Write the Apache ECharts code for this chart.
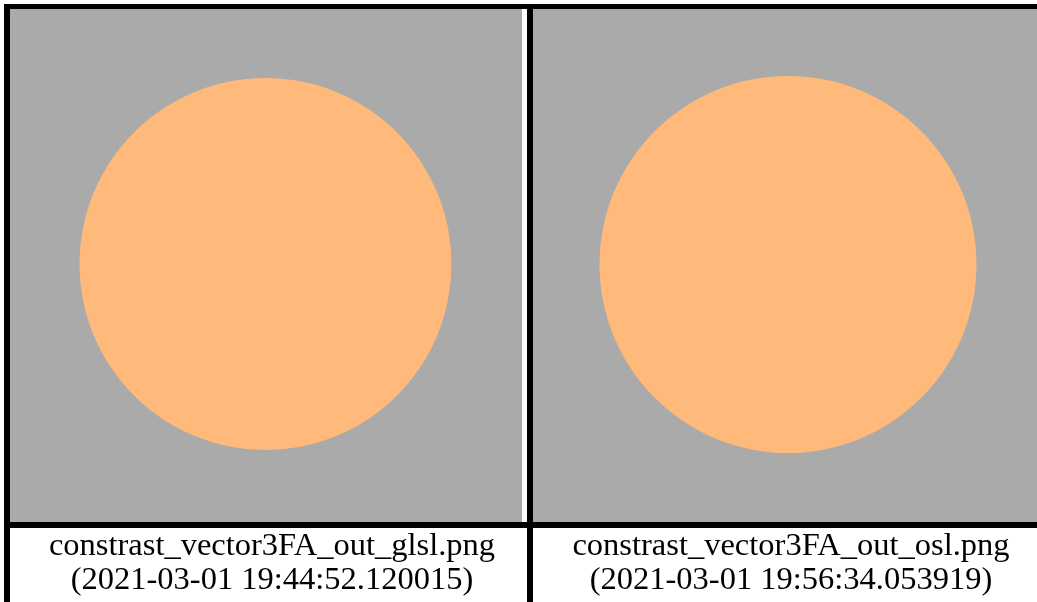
<!DOCTYPE html>
<html>
<head>
<meta charset="UTF-8">
<title></title>
<script src="https://cdn.jsdelivr.net/npm/echarts@6/dist/echarts.min.js"></script>
<style>
  html, body { margin: 0; padding: 0; background: #fff; }
  #chart { width: 1037px; height: 602px; }
</style>
</head>
<body>
<div id="chart"></div>
<script>
// two image panels (image pixel units, right one cut by the window)
var fileNames = ['constrast_vector3FA_out_glsl.png', 'constrast_vector3FA_out_osl.png'];
var timeStamps = ['(2021-03-01 19:44:52.120015)', '(2021-03-01 19:56:34.053919)'];
var panelWidth = [512, 505];
// circle per panel, in image pixel units
var circleX = [255.5, 256];
var circleY = [255, 255.5];
var circleR = [186, 188.5];

var gray = '#aaaaaa';
var orange = '#ffba7b';

var grids = [
  { left: 10, top: 9, width: 512, height: 513 },
  { left: 532, top: 9, width: 505, height: 513 }
];
var xAxes = [], yAxes = [], series = [];
for (var i = 0; i < fileNames.length; i++) {
  grids[i].show = true;
  grids[i].backgroundColor = gray;
  grids[i].borderWidth = 0;
  xAxes.push({ gridIndex: i, type: 'value', min: 0, max: panelWidth[i], show: false });
  yAxes.push({ gridIndex: i, type: 'value', min: 0, max: 513, inverse: true, show: false });
  series.push({
    type: 'custom',
    xAxisIndex: i,
    yAxisIndex: i,
    data: [[circleX[i], circleY[i], circleR[i]]],
    renderItem: function (params, api) {
      var c = api.coord([api.value(0), api.value(1)]);
      var s = api.size([api.value(2), api.value(2)]);
      return {
        type: 'circle',
        shape: { cx: c[0], cy: c[1], r: s[0] },
        style: { fill: orange }
      };
    },
    silent: true
  });
}

// table borders and captions
var graphic = [
  { type: 'rect', shape: { x: 4, y: 4, width: 1040, height: 5 }, style: { fill: '#000' } },
  { type: 'rect', shape: { x: 4, y: 4, width: 6, height: 600 }, style: { fill: '#000' } },
  { type: 'rect', shape: { x: 527, y: 4, width: 6, height: 600 }, style: { fill: '#000' } },
  { type: 'rect', shape: { x: 4, y: 522, width: 1040, height: 6 }, style: { fill: '#000' } }
];
var captionX = [272, 791];
var capFont = '32.5px "Liberation Serif"';
for (var j = 0; j < fileNames.length; j++) {
  graphic.push({
    type: 'text', x: captionX[j], y: 546,
    style: { text: fileNames[j], fill: '#000', font: capFont, textAlign: 'center', textVerticalAlign: 'middle' }
  });
  graphic.push({
    type: 'text', x: captionX[j], y: 580,
    style: { text: timeStamps[j], fill: '#000', font: capFont, textAlign: 'center', textVerticalAlign: 'middle' }
  });
}

var myChart = echarts.init(document.getElementById('chart'));
myChart.setOption({
  backgroundColor: '#fff',
  animation: false,
  grid: grids,
  xAxis: xAxes,
  yAxis: yAxes,
  series: series,
  graphic: graphic
});
</script>
</body>
</html>
